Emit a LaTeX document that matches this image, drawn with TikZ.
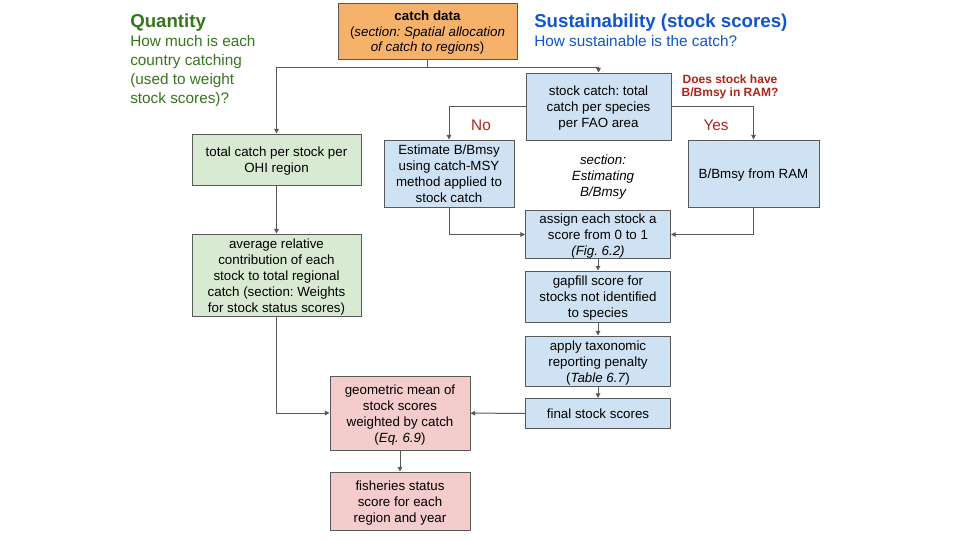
\documentclass[tikz,border=0pt]{standalone}
\usepackage{fontspec}
\setmainfont{Liberation Sans}
\usetikzlibrary{arrows.meta}
\frenchspacing

\definecolor{boxline}{HTML}{595959}
\definecolor{catchorange}{HTML}{F6B26B}
\definecolor{stockblue}{HTML}{CFE2F3}
\definecolor{qtygreen}{HTML}{D9EAD3}
\definecolor{scorepink}{HTML}{F4CCCC}
\definecolor{titlegreen}{HTML}{38761D}
\definecolor{titleblue}{HTML}{1155CC}
\definecolor{answerred}{HTML}{B02418}

% first and last line boxes as the slide sets them
\newcommand\topstrut{\rule{0pt}{10pt}}
\newcommand\botstrut{\rule[-2pt]{0pt}{0pt}}

\tikzset{
  box/.style={draw=boxline, line width=0.75pt, align=center, inner sep=0pt,
    font=\fontsize{10}{12}\selectfont},
  size/.style 2 args={minimum width=#1, minimum height=#2},
  orangebox/.style={box, fill=catchorange},
  bluebox/.style={box, fill=stockblue},
  greenbox/.style={box, fill=qtygreen},
  pinkbox/.style={box, fill=scorepink},
  link/.style={draw=boxline, line width=0.75pt, -{Triangle[length=3.5pt,width=3.5pt]}},
  plain/.style={draw=boxline, line width=0.75pt},
}

\begin{document}
\begin{tikzpicture}[x=0.75pt,y=-0.75pt]
  \useasboundingbox[fill=white] (0,0) rectangle (960,540);

  % headings
  \node (qtitle) [anchor=base west, inner sep=0, text=titlegreen,
    font=\fontsize{14}{16}\selectfont\bfseries] at (130,27) {Quantity};
  \node (qtext) [anchor=north west, inner sep=0, text=titlegreen, align=left,
    font=\fontsize{11.5}{14.25}\selectfont] at (130,35)
    {How much is each\\country catching\\(used to weight\\stock scores)?};
  \node (stitle) [anchor=base west, inner sep=0, text=titleblue,
    font=\fontsize{14}{16}\selectfont\bfseries] at (534,27) {Sustainability (stock scores)};
  \node (stext) [anchor=base west, inner sep=0, text=titleblue,
    font=\fontsize{11.5}{14.25}\selectfont] at (534,46) {How sustainable is the catch?};

  % boxes
  \node (catch) [orangebox, size={134.25pt}{42pt}, font=\fontsize{10}{11.6}\selectfont] at (427.5,31)
    {\topstrut\textbf{catch data}\\(\textit{section: Spatial allocation}\\\textit{of catch to regions})\botstrut};
  \node (stock) [bluebox, size={108.75pt}{50.25pt}] at (598.5,106.5)
    {\topstrut stock catch: total\\catch per species\\per FAO area\botstrut};
  \node (est) [bluebox, size={97.5pt}{50.25pt}] at (449,173.5)
    {\topstrut Estimate B/Bmsy\\using catch-MSY\\method applied to\\stock catch\botstrut};
  \node (ram) [bluebox, size={98.25pt}{50.25pt}] at (753.5,173.5)
    {\topstrut B/Bmsy from RAM\botstrut};
  \node (assign) [bluebox, size={108.75pt}{34.5pt}] at (598,234.5)
    {\topstrut assign each stock a\\score from 0 to 1\\\textit{(Fig. 6.2)}\botstrut};
  \node (gapfill) [bluebox, size={108.75pt}{38.25pt}] at (598,296.5)
    {\topstrut gapfill score for\\stocks not identified\\to species\botstrut};
  \node (penalty) [bluebox, size={108.75pt}{37.5pt}] at (598,361)
    {\topstrut apply taxonomic\\reporting penalty\\(\textit{Table 6.7})\botstrut};
  \node (final) [bluebox, size={108.75pt}{22.5pt}] at (598,413.5)
    {\topstrut final stock scores\botstrut};
  \node (total) [greenbox, size={126.75pt}{38.25pt}] at (276.5,159.5)
    {\topstrut total catch per stock per\\OHI region\botstrut};
  \node (avg) [greenbox, size={126.75pt}{61.5pt}] at (276.5,275)
    {\topstrut average relative\\contribution of each\\stock to total regional\\catch (section: Weights\\for stock status scores)\botstrut};
  \node (geo) [pinkbox, size={105pt}{55.5pt}] at (400,413)
    {\topstrut geometric mean of\\stock scores\\weighted by catch\\(\textit{Eq. 6.9})\botstrut};
  \node (status) [pinkbox, size={105pt}{43.5pt}] at (400,501)
    {\topstrut fisheries status\\score for each\\region and year\botstrut};

  % labels
  \node (question) [align=center, inner sep=0, text=answerred,
    font=\fontsize{9}{9.75}\selectfont\bfseries] at (730,86.5)
    {Does stock have\\B/Bmsy in RAM?};
  \node (no) [inner sep=0, text=answerred, font=\fontsize{11.5}{14}\selectfont] at (481,125) {No};
  \node (yes) [inner sep=0, text=answerred, font=\fontsize{11.5}{14}\selectfont] at (716,125) {Yes};
  \node (section) [align=center, inner sep=0, font=\fontsize{10}{12}\selectfont\itshape] at (603,177)
    {section:\\Estimating\\B/Bmsy};

  % connectors
  \coordinate (split) at (427.5,67);
  \draw[plain] (catch) -- (split);
  \draw[link] (split) -| (total);
  \draw[link] (split) -| (stock);
  \draw[link] (stock) -| (est);
  \draw[link] (stock) -| (ram);
  \draw[link] (est) |- (assign);
  \draw[link] (ram) |- (assign);
  \draw[link] (assign) -- (gapfill);
  \draw[link] (gapfill) -- (penalty);
  \draw[link] (penalty) -- (final);
  \draw[link] (total) -- (avg);
  \draw[link] (avg) |- (geo);
  \draw[link] (final) -- (geo);
  \draw[link] (geo) -- (status);
\end{tikzpicture}
\end{document}
